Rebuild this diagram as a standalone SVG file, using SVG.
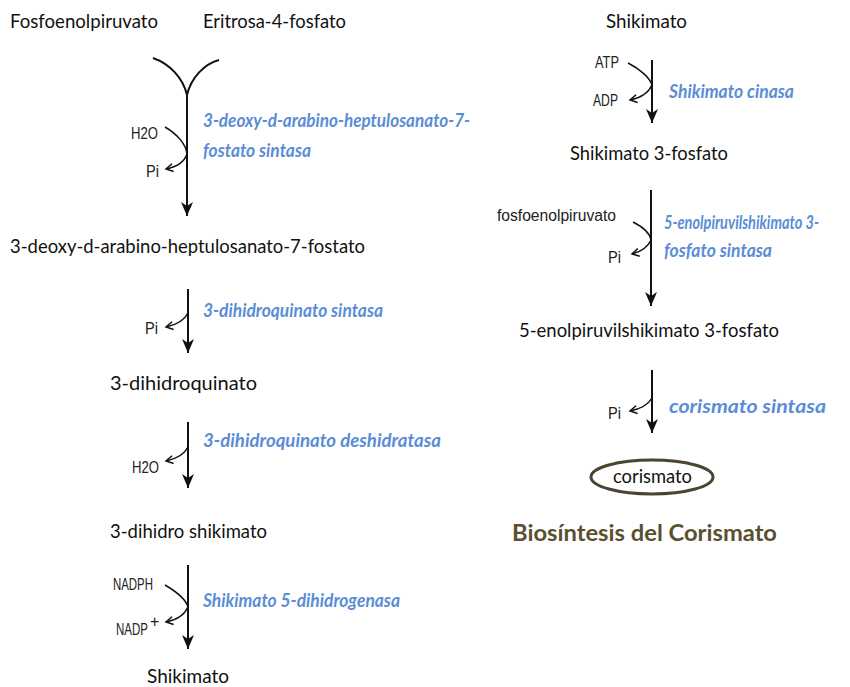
<svg xmlns="http://www.w3.org/2000/svg" width="850" height="687" viewBox="0 0 850 687">
<defs>
<style>
.t{font-family:Lato,"Open Sans",sans-serif;font-size:19px;fill:#111}
.b{font-family:Lato,"Open Sans",sans-serif;font-size:18px;font-weight:bold;font-style:italic;fill:#5b8dd6}
.s{font-family:"Liberation Sans",Arial,sans-serif;font-size:16px;fill:#222}
.ln{fill:none;stroke:#111;stroke-width:2}
.cv{fill:none;stroke:#111;stroke-width:1.5}
.title{font-family:Lato,"Open Sans",sans-serif;font-size:23px;font-weight:bold;fill:#5a5030}
</style>
<marker id="big" markerUnits="userSpaceOnUse" markerWidth="16" markerHeight="14" refX="14" refY="7" orient="auto" viewBox="0 0 16 14">
<path d="M0,1 L14,7 L0,13 L4,7 Z" fill="#111"/>
</marker>
<marker id="sm" markerUnits="userSpaceOnUse" markerWidth="10" markerHeight="10" refX="8" refY="5" orient="auto" viewBox="0 0 10 10">
<path d="M1,1 L8,5 L1,9" fill="none" stroke="#111" stroke-width="1.5"/>
</marker>
</defs>
<rect width="850" height="687" fill="#fff"/>

<g id="connectors">
<path class="ln" d="M153,58 C170,64 183,78 187,95 C191,78 204,64 219,60" stroke-width="3"/>
<line class="ln" x1="187" y1="95" x2="187" y2="216" marker-end="url(#big)"/>
<path class="cv" d="M165,127 C177,134 186,144 187,154 C184,163 176,167 166,169" marker-end="url(#sm)"/>
<line class="ln" x1="188" y1="289" x2="188" y2="353" marker-end="url(#big)"/>
<path class="cv" d="M188,313 C184,321 176,325 166,327" marker-end="url(#sm)"/>
<line class="ln" x1="188" y1="422" x2="188" y2="488" marker-end="url(#big)"/>
<path class="cv" d="M188,447 C184,455 176,459 166,461" marker-end="url(#sm)"/>
<line class="ln" x1="188" y1="565" x2="188" y2="649" marker-end="url(#big)"/>
<path class="cv" d="M165,585 C177,592 186,600 188,607 C184,616 176,620 166,622" marker-end="url(#sm)"/>
<line class="ln" x1="652" y1="60" x2="652" y2="123" marker-end="url(#big)"/>
<path class="cv" d="M628,63 C640,69 650,78 652,85 C648,94 640,98 630,100" marker-end="url(#sm)"/>
<line class="ln" x1="651" y1="190" x2="651" y2="306" marker-end="url(#big)"/>
<path class="cv" d="M633,222 C643,227 650,234 651,240 C647,249 640,252 632,254" marker-end="url(#sm)"/>
<line class="ln" x1="652" y1="370" x2="652" y2="433" marker-end="url(#big)"/>
<path class="cv" d="M652,398 C648,405 640,409 630,411" marker-end="url(#sm)"/>
</g>

<g id="fosfoenolpiruvato"><text class="t" x="10" y="28" textLength="148" lengthAdjust="spacingAndGlyphs">Fosfoenolpiruvato</text></g>
<g id="eritrosa"><text class="t" x="203" y="28" textLength="143" lengthAdjust="spacingAndGlyphs">Eritrosa-4-fosfato</text></g>
<g id="enzyme1">
<text class="s" x="131" y="139" textLength="27" lengthAdjust="spacingAndGlyphs">H2O</text>
<text class="s" x="146" y="177" textLength="13" lengthAdjust="spacingAndGlyphs">Pi</text>
<text class="b" x="203" y="127" textLength="267" lengthAdjust="spacingAndGlyphs">3-deoxy-d-arabino-heptulosanato-7-</text>
<text class="b" x="203" y="157" textLength="108" lengthAdjust="spacingAndGlyphs">fostato sintasa</text>
</g>
<g id="dahp"><text class="t" x="10" y="253" textLength="355" lengthAdjust="spacingAndGlyphs">3-deoxy-d-arabino-heptulosanato-7-fostato</text></g>
<g id="enzyme2">
<text class="s" x="145" y="334" textLength="13" lengthAdjust="spacingAndGlyphs">Pi</text>
<text class="b" x="203" y="317" textLength="180" lengthAdjust="spacingAndGlyphs">3-dihidroquinato sintasa</text>
</g>
<g id="dhq"><text class="t" x="110" y="390" textLength="147" lengthAdjust="spacingAndGlyphs">3-dihidroquinato</text></g>
<g id="enzyme3">
<text class="s" x="132" y="473" textLength="27" lengthAdjust="spacingAndGlyphs">H2O</text>
<text class="b" x="203" y="447" textLength="238" lengthAdjust="spacingAndGlyphs">3-dihidroquinato deshidratasa</text>
</g>
<g id="dhs"><text class="t" x="110" y="538" textLength="157" lengthAdjust="spacingAndGlyphs">3-dihidro shikimato</text></g>
<g id="enzyme4">
<text class="s" x="113" y="590" textLength="40" lengthAdjust="spacingAndGlyphs">NADPH</text>
<text class="s" x="116" y="635" textLength="32" lengthAdjust="spacingAndGlyphs">NADP</text>
<text class="s" x="150" y="627" font-size="11">+</text>
<text class="b" x="203" y="607" textLength="197" lengthAdjust="spacingAndGlyphs">Shikimato 5-dihidrogenasa</text>
</g>
<g id="shikimato-bottom"><text class="t" x="147" y="683" textLength="82" lengthAdjust="spacingAndGlyphs">Shikimato</text></g>

<g id="shikimato-top"><text class="t" x="606" y="28" textLength="81" lengthAdjust="spacingAndGlyphs">Shikimato</text></g>
<g id="enzyme5">
<text class="s" x="595" y="68" textLength="24" lengthAdjust="spacingAndGlyphs">ATP</text>
<text class="s" x="593" y="106" textLength="25" lengthAdjust="spacingAndGlyphs">ADP</text>
<text class="b" x="669" y="98" textLength="125" lengthAdjust="spacingAndGlyphs">Shikimato cinasa</text>
</g>
<g id="s3p"><text class="t" x="570" y="160" textLength="158" lengthAdjust="spacingAndGlyphs">Shikimato 3-fosfato</text></g>
<g id="enzyme6">
<text class="s" x="497" y="221" textLength="119" lengthAdjust="spacingAndGlyphs">fosfoenolpiruvato</text>
<text class="s" x="608" y="263" textLength="13" lengthAdjust="spacingAndGlyphs">Pi</text>
<text class="b" x="664" y="229" textLength="155" lengthAdjust="spacingAndGlyphs">5-enolpiruvilshikimato 3-</text>
<text class="b" x="664" y="257" textLength="108" lengthAdjust="spacingAndGlyphs">fosfato sintasa</text>
</g>
<g id="epsp"><text class="t" x="519" y="337" textLength="260" lengthAdjust="spacingAndGlyphs">5-enolpiruvilshikimato 3-fosfato</text></g>
<g id="enzyme7">
<text class="s" x="608" y="419" textLength="13" lengthAdjust="spacingAndGlyphs">Pi</text>
<text class="b" x="669" y="413" textLength="157" lengthAdjust="spacingAndGlyphs">corismato sintasa</text>
</g>
<g id="corismato">
<ellipse cx="652" cy="477" rx="61" ry="17" fill="#fff" stroke="#4a4430" stroke-width="3"/>
<text class="t" x="613" y="483" textLength="79" lengthAdjust="spacingAndGlyphs">corismato</text>
</g>
<g id="title"><text class="title" x="512" y="541" textLength="265" lengthAdjust="spacingAndGlyphs">Biosíntesis del Corismato</text></g>
</svg>
